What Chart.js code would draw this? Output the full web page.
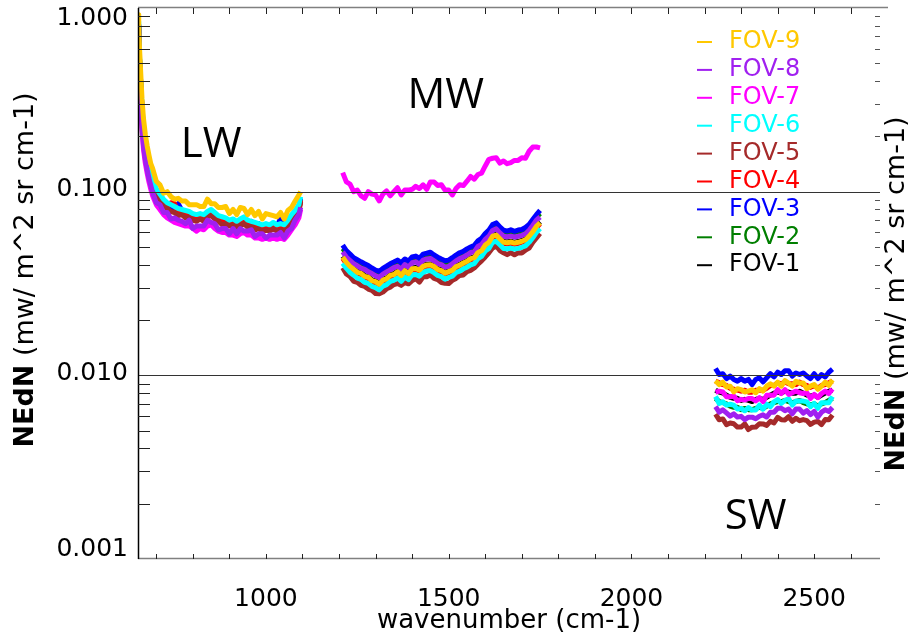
<!DOCTYPE html>
<html>
<head>
<meta charset="utf-8">
<script src="https://cdn.jsdelivr.net/npm/chart.js@4.4.1/dist/chart.umd.min.js"></script>
<style>
html,body{margin:0;padding:0;background:#fff;}
#wrap{width:912px;height:637px;position:relative;}
</style>
</head>
<body>
<div id="wrap"><canvas id="c" width="912" height="637"></canvas></div>
<script>
// ---------- categories / tick labels ----------
const seriesLabels = ['FOV-9','FOV-8','FOV-7','FOV-6','FOV-5','FOV-4','FOV-3','FOV-2','FOV-1'];
const xTickValues = [1000, 1500, 2000, 2500];
const yTickValues = [1, 0.1, 0.01, 0.001];
const yTickLabels = ['1.000', '0.100', '0.010', '0.001'];
const bandNames = ['LW', 'MW', 'SW'];

// ---------- wavenumber grids (cm-1) ----------
const lwWn = [650,652,655,658,661,665,670,675,680,685,690,700,710,720,730,740,750,760,770,780,790,800,810,820,830,840,850,860,870,880,890,900,910,920,930,940,950,960,970,980,990,1000,1010,1020,1030,1040,1050,1060,1070,1080,1090,1095];
const mwWn = [1210,1220,1230,1240,1250,1260,1270,1280,1290,1300,1310,1320,1330,1340,1350,1360,1370,1380,1390,1400,1410,1420,1430,1440,1450,1460,1470,1480,1490,1500,1510,1520,1530,1540,1550,1560,1570,1580,1590,1600,1610,1620,1630,1640,1650,1660,1670,1680,1690,1700,1710,1720,1730,1740,1750];
const swWn = [2230,2240,2250,2260,2270,2280,2290,2300,2310,2320,2330,2340,2350,2360,2370,2380,2390,2400,2410,2420,2430,2440,2450,2460,2470,2480,2490,2500,2510,2520,2530,2540,2550];

// ---------- NEdN values (mW/m^2 sr cm-1) ----------
// LW band
const fov9Lw = [0.92,0.74,0.56,0.42,0.32,0.25,0.205,0.178,0.158,0.142,0.134,0.114,0.109,0.098,0.100,0.094,0.091,0.092,0.089,0.089,0.085,0.085,0.085,0.083,0.083,0.091,0.086,0.086,0.082,0.082,0.083,0.076,0.080,0.075,0.082,0.081,0.075,0.080,0.074,0.078,0.071,0.076,0.075,0.074,0.073,0.077,0.071,0.079,0.082,0.089,0.096,0.100];
const fov8Lw = [0.62,0.50,0.38,0.29,0.225,0.178,0.150,0.132,0.118,0.108,0.099,0.087,0.085,0.077,0.077,0.071,0.072,0.070,0.069,0.067,0.070,0.063,0.065,0.065,0.065,0.070,0.068,0.067,0.062,0.063,0.063,0.059,0.063,0.059,0.063,0.061,0.061,0.062,0.057,0.059,0.059,0.056,0.058,0.058,0.058,0.060,0.056,0.061,0.063,0.070,0.075,0.082];
const fov7Lw = [0.58,0.47,0.36,0.28,0.215,0.170,0.143,0.126,0.113,0.103,0.095,0.085,0.080,0.075,0.072,0.070,0.068,0.067,0.066,0.065,0.065,0.063,0.061,0.063,0.062,0.065,0.066,0.063,0.061,0.060,0.060,0.058,0.058,0.057,0.059,0.060,0.058,0.058,0.056,0.056,0.055,0.056,0.055,0.056,0.055,0.056,0.055,0.058,0.062,0.066,0.072,0.080];
const fov6Lw = [0.84,0.66,0.50,0.37,0.29,0.225,0.184,0.160,0.142,0.128,0.117,0.104,0.097,0.091,0.087,0.085,0.083,0.081,0.080,0.079,0.078,0.076,0.075,0.076,0.075,0.078,0.080,0.077,0.074,0.073,0.072,0.070,0.071,0.069,0.071,0.073,0.070,0.069,0.068,0.067,0.066,0.067,0.066,0.068,0.066,0.067,0.066,0.070,0.075,0.079,0.085,0.094];
const fov5Lw = [0.76,0.61,0.46,0.35,0.27,0.21,0.170,0.148,0.131,0.118,0.108,0.096,0.090,0.084,0.081,0.078,0.077,0.074,0.075,0.072,0.073,0.070,0.069,0.071,0.069,0.073,0.074,0.071,0.069,0.066,0.067,0.065,0.066,0.064,0.066,0.067,0.064,0.065,0.062,0.063,0.061,0.062,0.061,0.063,0.061,0.062,0.061,0.065,0.069,0.072,0.077,0.088];
const fov4Lw = [0.78,0.63,0.48,0.36,0.27,0.21,0.174,0.151,0.134,0.121,0.110,0.099,0.092,0.086,0.083,0.087,0.086,0.076,0.077,0.074,0.075,0.071,0.071,0.072,0.071,0.075,0.076,0.072,0.071,0.068,0.069,0.066,0.067,0.065,0.068,0.069,0.065,0.066,0.064,0.065,0.062,0.064,0.063,0.065,0.062,0.064,0.062,0.066,0.071,0.074,0.079,0.090];
const fov3Lw = [0.81,0.65,0.49,0.37,0.28,0.22,0.180,0.157,0.139,0.125,0.114,0.102,0.095,0.089,0.086,0.083,0.082,0.086,0.079,0.077,0.077,0.074,0.073,0.075,0.073,0.077,0.078,0.075,0.073,0.070,0.071,0.069,0.070,0.068,0.070,0.071,0.068,0.069,0.066,0.067,0.064,0.066,0.065,0.067,0.064,0.072,0.064,0.069,0.073,0.077,0.082,0.092];
const fov2Lw = [0.79,0.64,0.48,0.36,0.275,0.215,0.176,0.153,0.136,0.122,0.112,0.100,0.093,0.087,0.084,0.081,0.080,0.077,0.077,0.075,0.076,0.072,0.071,0.073,0.072,0.076,0.076,0.073,0.071,0.069,0.070,0.067,0.068,0.066,0.069,0.070,0.066,0.067,0.065,0.065,0.063,0.065,0.064,0.065,0.063,0.065,0.063,0.067,0.071,0.075,0.080,0.090];
const fov1Lw = [0.80,0.64,0.49,0.37,0.28,0.215,0.177,0.154,0.137,0.123,0.112,0.100,0.094,0.087,0.085,0.081,0.080,0.077,0.078,0.075,0.076,0.073,0.072,0.073,0.072,0.076,0.077,0.073,0.072,0.069,0.070,0.067,0.068,0.066,0.069,0.070,0.066,0.067,0.065,0.066,0.063,0.065,0.064,0.066,0.063,0.065,0.063,0.067,0.072,0.075,0.080,0.091];

// MW band
const fov9Mw = [0.0440,0.0412,0.0392,0.0378,0.0364,0.0359,0.0346,0.0342,0.0328,0.0324,0.0314,0.0330,0.0336,0.0350,0.0354,0.0366,0.0350,0.0371,0.0358,0.0380,0.0382,0.0374,0.0392,0.0399,0.0400,0.0391,0.0377,0.0372,0.0360,0.0367,0.0374,0.0391,0.0398,0.0409,0.0418,0.0432,0.0437,0.0466,0.0478,0.0512,0.0530,0.0572,0.0580,0.0554,0.0530,0.0527,0.0532,0.0525,0.0530,0.0537,0.0547,0.0572,0.0605,0.0648,0.0678];
const fov8Mw = [0.0470,0.0441,0.0422,0.0405,0.0395,0.0384,0.0378,0.0366,0.0358,0.0348,0.0341,0.0356,0.0366,0.0375,0.0386,0.0392,0.0378,0.0401,0.0388,0.0410,0.0415,0.0402,0.0424,0.0430,0.0433,0.0420,0.0406,0.0401,0.0388,0.0392,0.0405,0.0420,0.0432,0.0440,0.0452,0.0466,0.0470,0.0503,0.0516,0.0550,0.0572,0.0615,0.0628,0.0596,0.0572,0.0568,0.0573,0.0567,0.0572,0.0578,0.0590,0.0616,0.0655,0.0700,0.0728];
const fov7Mw = [0.127,0.113,0.110,0.100,0.102,0.095,0.092,0.100,0.097,0.096,0.089,0.097,0.101,0.095,0.100,0.105,0.096,0.102,0.102,0.103,0.107,0.104,0.109,0.103,0.113,0.113,0.108,0.109,0.102,0.102,0.096,0.104,0.109,0.108,0.114,0.121,0.117,0.124,0.126,0.138,0.150,0.152,0.153,0.143,0.147,0.142,0.144,0.148,0.148,0.153,0.152,0.166,0.175,0.175,0.173];
const fov6Mw = [0.0408,0.0383,0.0363,0.0351,0.0338,0.0333,0.0321,0.0317,0.0305,0.0300,0.0292,0.0306,0.0312,0.0325,0.0329,0.0340,0.0325,0.0344,0.0332,0.0353,0.0354,0.0347,0.0364,0.0370,0.0372,0.0362,0.0350,0.0345,0.0334,0.0341,0.0347,0.0363,0.0369,0.0380,0.0388,0.0400,0.0406,0.0432,0.0444,0.0475,0.0491,0.0530,0.0538,0.0514,0.0491,0.0489,0.0493,0.0487,0.0491,0.0498,0.0507,0.0530,0.0561,0.0600,0.0630];
const fov5Mw = [0.0385,0.0356,0.0345,0.0325,0.0321,0.0309,0.0305,0.0295,0.0290,0.0279,0.0278,0.0284,0.0296,0.0302,0.0312,0.0316,0.0309,0.0320,0.0315,0.0328,0.0336,0.0322,0.0344,0.0344,0.0352,0.0337,0.0332,0.0320,0.0317,0.0316,0.0329,0.0337,0.0350,0.0352,0.0367,0.0373,0.0384,0.0403,0.0420,0.0441,0.0465,0.0493,0.0508,0.0478,0.0465,0.0454,0.0466,0.0453,0.0465,0.0464,0.0480,0.0493,0.0530,0.0560,0.0592];
const fov4Mw = [0.0434,0.0406,0.0386,0.0373,0.0358,0.0354,0.0341,0.0337,0.0323,0.0319,0.0310,0.0325,0.0331,0.0345,0.0349,0.0361,0.0345,0.0365,0.0353,0.0374,0.0376,0.0368,0.0386,0.0393,0.0394,0.0385,0.0371,0.0366,0.0355,0.0361,0.0368,0.0385,0.0392,0.0403,0.0412,0.0426,0.0430,0.0459,0.0471,0.0504,0.0522,0.0563,0.0571,0.0546,0.0522,0.0519,0.0524,0.0517,0.0522,0.0529,0.0539,0.0563,0.0596,0.0638,0.0668];
const fov3Mw = [0.0512,0.0478,0.0458,0.0437,0.0426,0.0415,0.0405,0.0396,0.0384,0.0374,0.0368,0.0382,0.0393,0.0405,0.0414,0.0424,0.0410,0.0430,0.0418,0.0441,0.0446,0.0433,0.0457,0.0462,0.0468,0.0452,0.0440,0.0430,0.0421,0.0424,0.0437,0.0452,0.0465,0.0473,0.0488,0.0500,0.0510,0.0540,0.0558,0.0592,0.0618,0.0662,0.0676,0.0642,0.0618,0.0610,0.0620,0.0608,0.0618,0.0622,0.0638,0.0662,0.0705,0.0750,0.0790];
const fov2Mw = [0.0490,0.0462,0.0440,0.0423,0.0409,0.0401,0.0388,0.0382,0.0369,0.0362,0.0353,0.0369,0.0377,0.0391,0.0397,0.0410,0.0394,0.0415,0.0402,0.0426,0.0428,0.0418,0.0439,0.0446,0.0449,0.0437,0.0423,0.0415,0.0404,0.0410,0.0420,0.0436,0.0447,0.0457,0.0469,0.0483,0.0490,0.0521,0.0536,0.0572,0.0594,0.0640,0.0650,0.0620,0.0594,0.0589,0.0596,0.0587,0.0594,0.0601,0.0613,0.0640,0.0678,0.0725,0.0760];
const fov1Mw = [0.0444,0.0416,0.0396,0.0382,0.0368,0.0363,0.0349,0.0345,0.0331,0.0327,0.0317,0.0333,0.0339,0.0354,0.0358,0.0370,0.0354,0.0375,0.0362,0.0384,0.0386,0.0378,0.0396,0.0403,0.0404,0.0395,0.0381,0.0376,0.0364,0.0371,0.0378,0.0395,0.0402,0.0413,0.0422,0.0436,0.0441,0.0471,0.0483,0.0517,0.0535,0.0578,0.0586,0.0560,0.0535,0.0532,0.0537,0.0530,0.0535,0.0542,0.0552,0.0578,0.0611,0.0654,0.0685];

// SW band
const fov9Sw = [0.00935,0.00890,0.00918,0.00864,0.00873,0.00813,0.00846,0.00836,0.00812,0.00820,0.00835,0.00804,0.00846,0.00821,0.00873,0.00899,0.00873,0.00917,0.00873,0.00935,0.00908,0.00873,0.00927,0.00908,0.00909,0.00847,0.00873,0.00890,0.00839,0.00873,0.00918,0.00881,0.00944];
const fov8Sw = [0.00675,0.00630,0.00649,0.00624,0.00599,0.00617,0.00593,0.00598,0.00574,0.00592,0.00592,0.00580,0.00599,0.00610,0.00593,0.00630,0.00630,0.00662,0.00662,0.00642,0.00655,0.00617,0.00656,0.00655,0.00623,0.00643,0.00611,0.00636,0.00593,0.00630,0.00649,0.00636,0.00668];
const fov7Sw = [0.00810,0.00820,0.00812,0.00764,0.00764,0.00771,0.00727,0.00740,0.00734,0.00748,0.00747,0.00726,0.00756,0.00719,0.00779,0.00780,0.00780,0.00836,0.00796,0.00836,0.00788,0.00804,0.00820,0.00804,0.00796,0.00803,0.00749,0.00788,0.00756,0.00796,0.00820,0.00796,0.00843];
const fov6Sw = [0.00767,0.00702,0.00717,0.00689,0.00696,0.00688,0.00655,0.00661,0.00641,0.00667,0.00647,0.00648,0.00688,0.00654,0.00696,0.00675,0.00717,0.00738,0.00703,0.00731,0.00746,0.00689,0.00724,0.00724,0.00724,0.00717,0.00675,0.00703,0.00662,0.00710,0.00710,0.00710,0.00767];
const fov5Sw = [0.00614,0.00573,0.00579,0.00539,0.00550,0.00545,0.00523,0.00523,0.00544,0.00507,0.00522,0.00523,0.00545,0.00544,0.00534,0.00562,0.00551,0.00591,0.00573,0.00572,0.00596,0.00562,0.00584,0.00566,0.00574,0.00567,0.00540,0.00556,0.00561,0.00539,0.00574,0.00573,0.00608];
const fov4Sw = [0.0093,0.0091,0.0089,0.0088,0.0085,0.0084,0.0083,0.0082,0.0083,0.0081,0.0081,0.0083,0.0083,0.0083,0.0085,0.0088,0.0088,0.0091,0.0090,0.0092,0.0090,0.0090,0.0089,0.0092,0.0089,0.0088,0.0086,0.0088,0.0085,0.0088,0.0089,0.0091,0.0093];
const fov3Sw = [0.0109,0.0101,0.0102,0.0096,0.0099,0.0095,0.0093,0.0096,0.0093,0.0095,0.0089,0.0095,0.0097,0.0092,0.0097,0.0102,0.0098,0.0104,0.0101,0.0106,0.0106,0.0099,0.0103,0.0101,0.0103,0.0099,0.0096,0.0102,0.0096,0.0101,0.0098,0.0104,0.0108];
const fov2Sw = [0.0075,0.0072,0.0071,0.0070,0.0068,0.0067,0.0067,0.0065,0.0066,0.0065,0.0065,0.0066,0.0067,0.0066,0.0068,0.0070,0.0071,0.0072,0.0072,0.0073,0.0072,0.0071,0.0072,0.0073,0.0071,0.0070,0.0069,0.0070,0.0068,0.0070,0.0071,0.0073,0.0075];
const fov1Sw = [0.0083,0.0081,0.0080,0.0078,0.0076,0.0075,0.0075,0.0073,0.0074,0.0073,0.0072,0.0074,0.0075,0.0074,0.0076,0.0078,0.0080,0.0081,0.0080,0.0082,0.0081,0.0080,0.0080,0.0082,0.0080,0.0078,0.0077,0.0078,0.0076,0.0078,0.0080,0.0082,0.0083];

// ---------- build datasets ----------
const seriesColors = ['#FFC800','#A020F0','#FF00FF','#00FFFF','#A52A2A','#FF0000','#0000FF','#007F00','#000000'];
const lwSeries = [fov9Lw,fov8Lw,fov7Lw,fov6Lw,fov5Lw,fov4Lw,fov3Lw,fov2Lw,fov1Lw];
const mwSeries = [fov9Mw,fov8Mw,fov7Mw,fov6Mw,fov5Mw,fov4Mw,fov3Mw,fov2Mw,fov1Mw];
const swSeries = [fov9Sw,fov8Sw,fov7Sw,fov6Sw,fov5Sw,fov4Sw,fov3Sw,fov2Sw,fov1Sw];

function toPoints(wn, vals) { return wn.map((w, i) => ({ x: w, y: vals[i] })); }
const datasets = seriesLabels.map((label, i) => ({
  label: label,
  borderColor: seriesColors[i],
  backgroundColor: seriesColors[i],
  data: [].concat(
    toPoints(lwWn, lwSeries[i]), [{ x: 1150, y: null }],
    toPoints(mwWn, mwSeries[i]), [{ x: 1980, y: null }],
    toPoints(swWn, swSeries[i])
  )
}));

function seg(ctx, x1, y1, x2, y2) { ctx.beginPath(); ctx.moveTo(x1, y1); ctx.lineTo(x2, y2); ctx.stroke(); }

const decor = {
  id: 'decor',
  afterDatasetsDraw(chart, args, opts) {
    const { ctx, chartArea: a, scales } = chart;
    const x = scales.x, y = scales.y;
    ctx.save();
    ctx.lineWidth = 1;
    ctx.strokeStyle = '#333';
    [0.1, 0.01].forEach(v => {
      const py = Math.round(y.getPixelForValue(v)) + 0.5;
      seg(ctx, a.left, py, a.right, py);
    });
    ctx.strokeStyle = '#808080';
    ctx.lineWidth = 1.5;
    seg(ctx, a.left, a.bottom - 0.5, a.right, a.bottom - 0.5);
    seg(ctx, a.left, a.top - 0.5, a.right + 8, a.top - 0.5);
    ctx.strokeStyle = '#000';
    seg(ctx, a.left + 0.5, a.top, a.left + 0.5, a.bottom);
    ctx.lineWidth = 1;
    ctx.strokeStyle = '#222';
    for (let v = 700; v <= 2600; v += 100) {
      const px = Math.round(x.getPixelForValue(v)) + 0.5;
      seg(ctx, px, a.bottom, px, a.bottom - 5);
      seg(ctx, px, a.top, px, a.top + 6);
    }
    for (const d of [0.001, 0.01, 0.1]) {
      for (let m = 2; m <= 9; m++) {
        const py = Math.round(y.getPixelForValue(m * d)) + 0.5;
        ctx.strokeStyle = '#222';
        seg(ctx, a.left, py, a.left + 12, py);
        ctx.strokeStyle = '#555';
        seg(ctx, a.right - 5, py, a.right, py);
      }
    }
    ctx.restore();
  },
  afterDraw(chart, args, opts) {
    const { ctx, chartArea: a, scales } = chart;
    const x = scales.x, y = scales.y;
    ctx.save();
    ctx.font = '25px "DejaVu Sans"';
    ctx.fillStyle = '#000';
    ctx.textAlign = 'right';
    ctx.textBaseline = 'middle';
    yTickValues.forEach((v, i) => {
      let py = y.getPixelForValue(v) - 2;
      py = Math.min(Math.max(py, a.top + 10), a.bottom - 10);
      ctx.fillText(yTickLabels[i], a.left - 10, py);
    });
    const drawTitle = (cx, cy) => {
      ctx.save();
      ctx.translate(cx, cy);
      ctx.rotate(-Math.PI / 2);
      const fb = 'bold 27px "DejaVu Sans"', fn = '27px "DejaVu Sans"';
      ctx.font = fb; const w1 = ctx.measureText(opts.titleBold).width;
      ctx.font = fn; const w2 = ctx.measureText(opts.titleRest).width;
      const x0 = -(w1 + w2) / 2;
      ctx.textAlign = 'left'; ctx.textBaseline = 'middle'; ctx.fillStyle = '#000';
      ctx.font = fb; ctx.fillText(opts.titleBold, x0, 0);
      ctx.font = fn; ctx.fillText(opts.titleRest, x0 + w1, 0);
      ctx.restore();
    };
    drawTitle(26, 270);
    drawTitle(897, 294);
    ctx.font = '42px "Open Sans"';
    ctx.fillStyle = '#000';
    ctx.textAlign = 'center';
    ctx.textBaseline = 'middle';
    opts.notes.forEach((n, i) => {
      ctx.fillText(bandNames[i], x.getPixelForValue(n.wn), y.getPixelForValue(n.v));
    });
    ctx.font = '24px "DejaVu Sans"';
    ctx.textAlign = 'left';
    ctx.textBaseline = 'middle';
    chart.data.datasets.forEach((ds, i) => {
      const ly = 42 + i * 27.9;
      ctx.strokeStyle = ds.borderColor;
      ctx.lineWidth = 2;
      seg(ctx, 697, ly, 712, ly);
      ctx.fillStyle = ds.borderColor;
      ctx.fillText(ds.label, 729, ly);
    });
    ctx.restore();
  }
};

new Chart(document.getElementById('c'), {
  type: 'line',
  data: { datasets: datasets },
  options: {
    responsive: false,
    animation: false,
    devicePixelRatio: 1,
    layout: { padding: { top: 8, left: 0, right: 0, bottom: 0 } },
    elements: { point: { radius: 0 }, line: { borderWidth: 5, tension: 0, borderJoinStyle: 'round' } },
    plugins: {
      legend: { display: false },
      tooltip: { enabled: false },
      decor: {
        titleBold: 'NEdN',
        titleRest: ' (mw/ m^2 sr cm-1)',
        notes: [ { wn: 850, v: 0.18 }, { wn: 1492, v: 0.33 }, { wn: 2340, v: 0.0017 } ]
      }
    },
    scales: {
      x: {
        type: 'linear', position: 'bottom', min: 650, max: 2680,
        afterBuildTicks: s => { s.ticks = xTickValues.map(v => ({ value: v })); },
        afterFit: s => { s.height = 78; },
        grid: { display: false, drawTicks: false },
        border: { display: false },
        ticks: { font: { family: 'DejaVu Sans', size: 25 }, color: '#000', padding: 25, maxRotation: 0, autoSkip: false, callback: v => String(v) },
        title: { display: true, text: 'wavenumber (cm-1)', font: { family: 'DejaVu Sans', size: 26 }, color: '#000', padding: { top: 0, bottom: 0 } }
      },
      y: {
        type: 'logarithmic', position: 'left', min: 0.001, max: 1,
        afterBuildTicks: s => { s.ticks = yTickValues.map(v => ({ value: v })); },
        afterFit: s => { s.width = 138; },
        grid: { display: false, drawTicks: false },
        border: { display: false },
        ticks: { display: false }
      },
      y2: {
        type: 'logarithmic', position: 'right', min: 0.001, max: 1,
        afterFit: s => { s.width = 32; },
        grid: { display: false, drawTicks: false },
        border: { display: false },
        ticks: { display: false }
      }
    }
  },
  plugins: [decor]
});
</script>
</body>
</html>
